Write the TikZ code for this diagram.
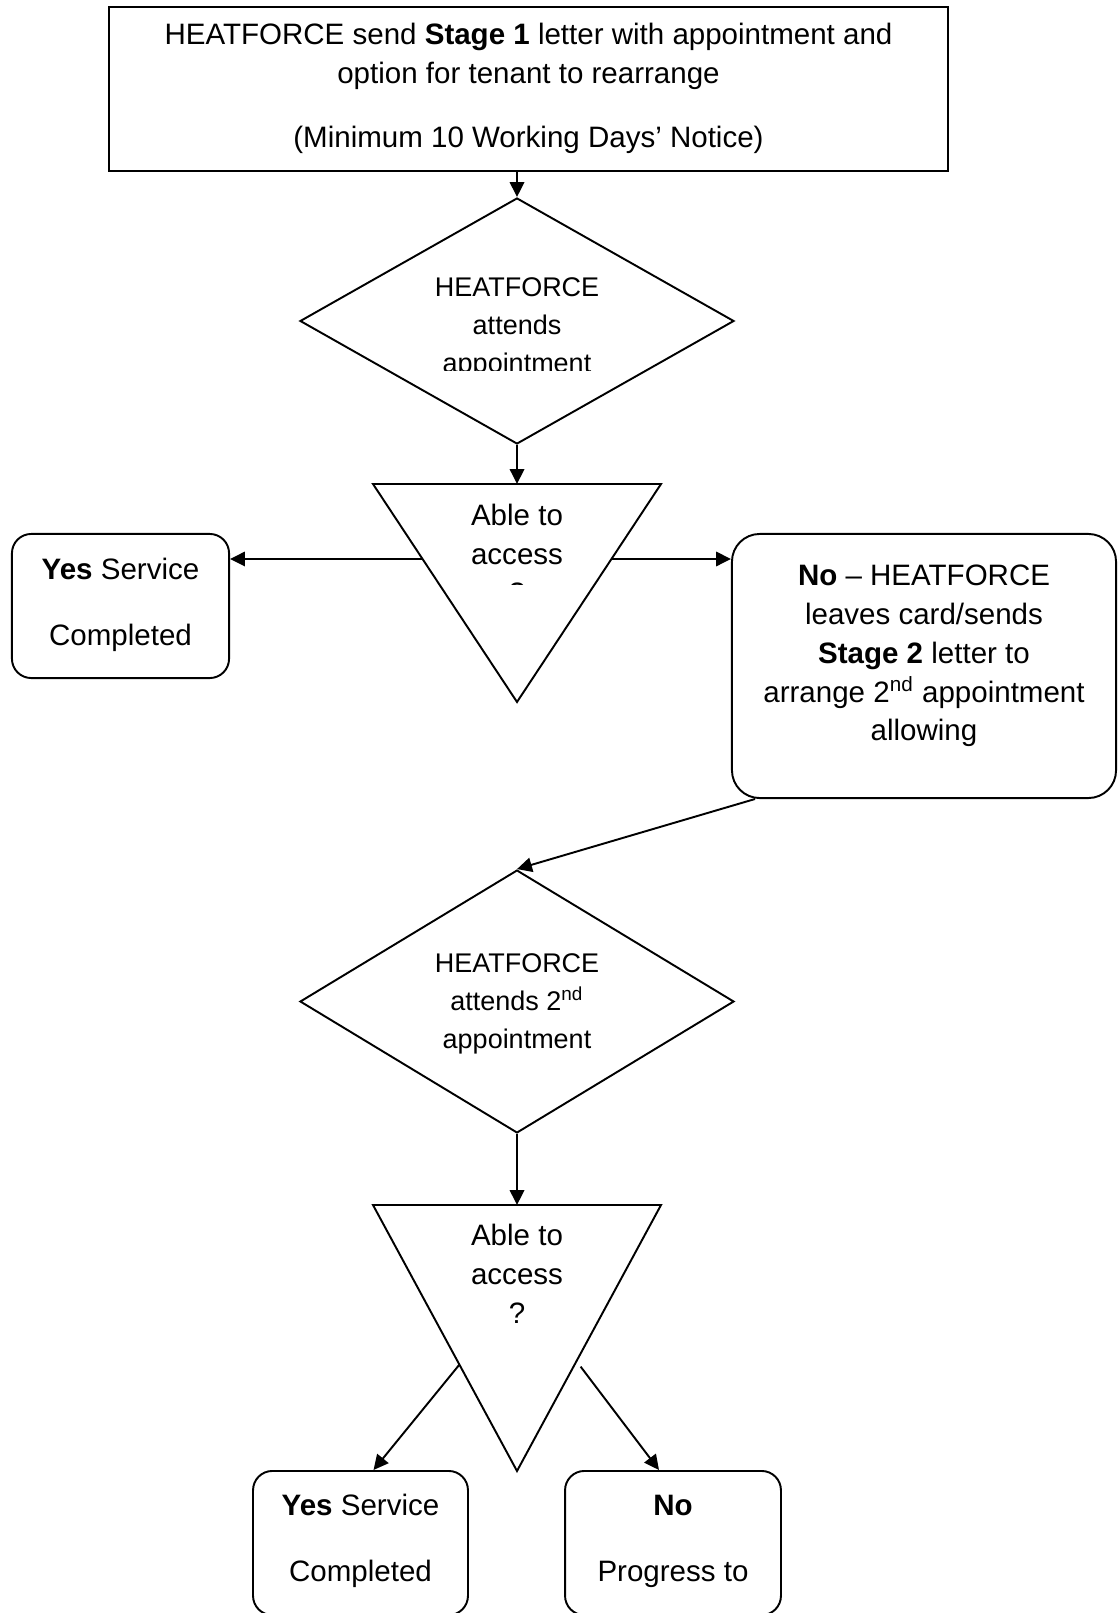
\documentclass[tikz,border=0pt]{standalone}
\usepackage{fontspec}
\setmainfont{Liberation Sans}
\usetikzlibrary{shapes.geometric,arrows.meta,calc}

\tikzset{
  box/.style={draw, inner sep=0pt},
  rbox/.style={draw, inner sep=0pt, rounded corners=8pt},
  decision/.style={draw, diamond, inner sep=0pt},
  txt/.style={align=center, inner sep=0pt, font=\fontsize{12.25}{16.1}\selectfont},
  dtxt/.style={align=center, inner sep=0pt, font=\fontsize{11.2}{15.8}\selectfont}
}

\begin{document}
\begin{tikzpicture}[x=0.415pt, y=-0.415pt, line width=0.8pt, line join=miter,
    >={Triangle[length=6.2pt,width=6pt]}]
    \useasboundingbox (0,0) rectangle (1118,1613);

    % boxes and decisions
    \node[box, minimum width=348.2pt, minimum height=68.1pt] (stage1) at (528.5,89) {};
    \node[decision, minimum width=180.1pt, minimum height=102.1pt] (visit1) at (517,321) {};
    \node[rbox, minimum width=90.1pt, minimum height=59.8pt] (yes1) at (120.5,606) {};
    \node[rbox, rounded corners=11.5pt, minimum width=159.4pt, minimum height=109.6pt] (no1) at (924,666) {};
    \node[decision, minimum width=180.1pt, minimum height=109.1pt] (visit2) at (517,1001.5) {};
    \node[rbox, minimum width=89.2pt, minimum height=59.8pt] (yes2) at (360.5,1543) {};
    \node[rbox, minimum width=89.6pt, minimum height=59.8pt] (no2) at (673,1543) {};

    % the two access triangles
    \coordinate (tri1l) at (373,484);
    \coordinate (tri1r) at (661,484);
    \coordinate (tri1c) at (517,702);
    \coordinate (tri1top) at (517,484);
    \draw (tri1l) -- (tri1r) -- (tri1c) -- cycle;
    \coordinate (tri2l) at (373,1205);
    \coordinate (tri2r) at (661,1205);
    \coordinate (tri2c) at (517,1471);
    \coordinate (tri2top) at (517,1205);
    \draw (tri2l) -- (tri2r) -- (tri2c) -- cycle;

    % texts
    \node[txt] (stage1txt) at (528.5,88.5) {HEATFORCE send \textbf{Stage 1} letter with appointment and\\
        option for tenant to rearrange\\[10.3pt]
        (Minimum 10 Working Days’ Notice)};
    \begin{scope}
        \clip (0,200) rectangle (1118,371);
        \node[dtxt] (visit1txt) at (517,327.5) {HEATFORCE\\attends\\appointment};
    \end{scope}
    \begin{scope}
        \clip (0,486) rectangle (1118,584);
        \node[txt] (access1txt) at (517,554) {Able to\\access\\?};
    \end{scope}
    \node[txt] (yes1txt) at (120.5,605) {\textbf{Yes} Service\\[11.2pt]Completed};
    \node[txt] (no1txt) at (924,656) {\textbf{No} – HEATFORCE\\leaves card/sends\\
        \textbf{Stage 2} letter to\\arrange 2\textsuperscript{nd} appointment\\allowing};
    \node[dtxt] (visit2txt) at (517,1003.5) {HEATFORCE\\attends 2\textsuperscript{nd}\\appointment};
    \node[txt] (access2txt) at (517,1274) {Able to\\access\\?};
    \node[txt] (yes2txt) at (360.5,1541) {\textbf{Yes} Service\\[11.2pt]Completed};
    \node[txt] (no2txt) at (673,1541.5) {\textbf{No}\\[11.2pt]Progress to};

    % connectors
    \draw[->] (visit1.north |- stage1.south) -- (visit1.north);
    \draw[->] (visit1.south) -- (tri1top);
    \coordinate (acc1l) at ($(tri1l)!0.344!(tri1c)$);
    \coordinate (acc1r) at ($(tri1r)!0.344!(tri1c)$);
    \draw[->] (acc1l) -- (acc1l -| yes1.east);
    \draw[->] (acc1r) -- (acc1r -| no1.west);
    \draw[->] ($(no1.south west)+(24,0)$) -- (visit2.north);
    \draw[->] (visit2.south) -- (tri2top);
    \draw[->] ($(tri2l)!0.6!(tri2c)$) -- ($(yes2.north)+(13,0)$);
    \draw[->] ($(tri2r)!0.6!(tri2c)+(6,2)$) -- ($(no2.north)+(-14,0)$);
\end{tikzpicture}
\end{document}
